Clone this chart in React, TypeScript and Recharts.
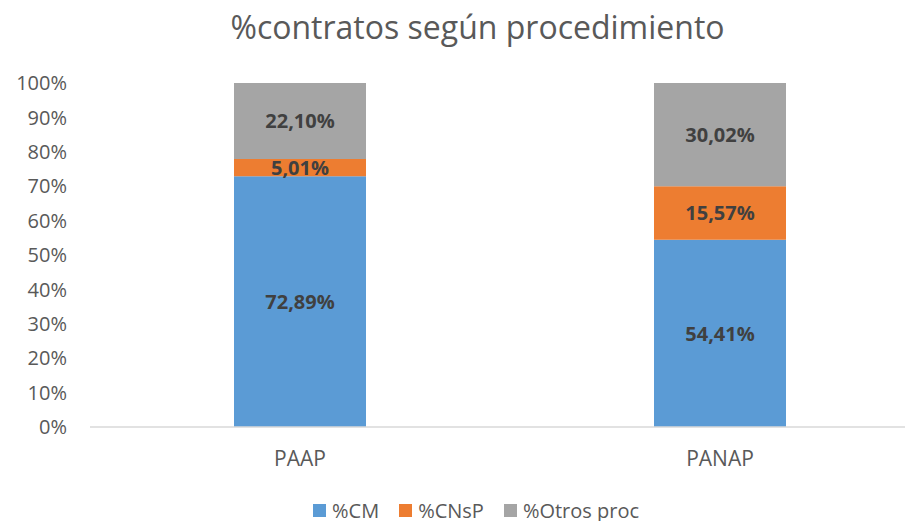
import React, { useEffect } from "react";
import { BarChart, Bar, XAxis, YAxis, LabelList } from "recharts";

const categories = ["PAAP", "PANAP"];
const cmValues = [72.89, 54.41];
const cnspValues = [5.01, 15.57];
const otrosValues = [22.1, 30.02];
const yTicks = [0, 10, 20, 30, 40, 50, 60, 70, 80, 90, 100];

const seriesNames = ["%CM", "%CNsP", "%Otros proc"];
const colors = ["#5B9BD5", "#ED7D31", "#A5A5A5"];

const data = categories.map((c, i) => ({
  name: c,
  cm: cmValues[i],
  cnsp: cnspValues[i],
  otros: otrosValues[i],
}));

const FONT = "'Open Sans', 'Noto Sans', sans-serif";

const fmt = (v: any) => `${Number(v).toFixed(2).replace(".", ",")}%`;

export default function App() {
  const keys = ["cm", "cnsp", "otros"];
  useEffect(() => {
    document.documentElement.style.overflow = "hidden";
  }, []);
  return (
    <div style={{ position: "relative", width: 905, height: 513, fontFamily: FONT }}>
      <div
        style={{
          position: "absolute",
          top: -3,
          left: 469.5,
          transform: "translateX(-50%)",
          whiteSpace: "nowrap",
          fontSize: 32,
          color: "#595959",
          fontFamily: FONT,
        }}
      >
        %contratos según procedimiento
      </div>
      <div style={{ position: "absolute", top: 0, left: 0, width: 905, height: 513, overflow: "hidden" }}>
        <BarChart
          width={930}
          height={513}
          data={data}
          margin={{ top: 75, right: 8, bottom: 64, left: 0 }}
          barCategoryGap={0}
        >
          <XAxis
            dataKey="name"
            axisLine={{ stroke: "#D9D9D9", strokeWidth: 1.5 }}
            tickLine={false}
            tickSize={0}
            tickMargin={24}
            height={30}
            tick={{ fill: "#595959", fontSize: 21, fontFamily: FONT }}
          />
          <YAxis
            domain={[0, 100]}
            ticks={yTicks}
            interval={0}
            axisLine={false}
            tickLine={false}
            tickSize={0}
            tickMargin={23}
            width={82}
            tickFormatter={(v: any) => `${v}%`}
            tick={{ fill: "#595959", fontSize: 20, fontFamily: FONT }}
          />
          {keys.map((k, i) => (
            <Bar key={k} dataKey={k} name={seriesNames[i]} stackId="a" fill={colors[i]} barSize={132} isAnimationActive={false}>
              <LabelList
                dataKey={k}
                position="center"
                formatter={fmt}
                fill="#404040"
                style={{ fontWeight: "bold", fontSize: 20, fontFamily: FONT }}
              />
            </Bar>
          ))}
        </BarChart>
      </div>
      <div
        style={{
          position: "absolute",
          top: 489,
          left: 305,
          display: "flex",
          alignItems: "center",
          fontSize: 20,
          color: "#595959",
          fontFamily: FONT,
          whiteSpace: "nowrap",
        }}
      >
        {seriesNames.map((n, i) => (
          <div key={n} style={{ display: "flex", alignItems: "center", marginRight: 20 }}>
            <span style={{ display: "inline-block", width: 13, height: 13, background: colors[i], marginRight: 6 }} />
            <span>{n}</span>
          </div>
        ))}
      </div>
    </div>
  );
}
